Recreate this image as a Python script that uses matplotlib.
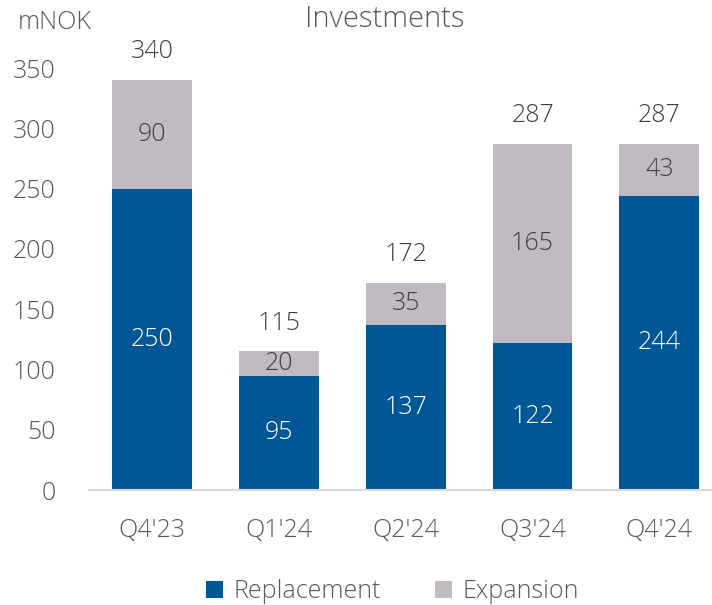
import matplotlib.pyplot as plt
import numpy as np

quarters = ["Q4'23", "Q1'24", "Q2'24", "Q3'24", "Q4'24"]
replacement = [250, 95, 137, 122, 244]
expansion = [90, 20, 35, 165, 43]
totals = [340, 115, 172, 287, 287]

blue = '#005796'
grey = '#C0BBC3'
txt = '#595959'
fs = 18

plt.rcParams['font.family'] = ['Open Sans', 'DejaVu Sans']
plt.rcParams['font.weight'] = 'light'

fig = plt.figure(figsize=(7.12, 6.05), dpi=100)
ax = fig.add_axes([0.125, 0.19, 0.89, 0.6975])

x = np.arange(len(quarters))
ax.bar(x, replacement, 0.63, color=blue, label='Replacement')
ax.bar(x, expansion, 0.63, bottom=replacement, color=grey, label='Expansion')

# etiketter i stolpene
for i in range(len(x)):
    ax.text(x[i], replacement[i] / 2, str(replacement[i]), ha='center', va='center',
            color='white', fontsize=fs, fontweight='light')
    ax.text(x[i], replacement[i] + expansion[i] / 2, str(expansion[i]), ha='center', va='center',
            color='#404040', fontsize=fs, fontweight='light')
    ax.text(x[i], totals[i] + 13, str(totals[i]), ha='center', va='bottom',
            color='#404040', fontsize=fs, fontweight='light', clip_on=False)

ax.set_xlim(-0.5, len(quarters) - 0.5)
ax.set_ylim(0, 350)
ax.set_yticks(range(0, 351, 50))
ax.set_xticks(x)
ax.set_xticklabels(quarters)
ax.tick_params(axis='both', length=0, labelsize=fs, labelcolor=txt)
ax.tick_params(axis='x', pad=20)
ax.tick_params(axis='y', pad=24)
for s in ['top', 'right', 'left']:
    ax.spines[s].set_visible(False)
ax.spines['bottom'].set_color('#D9D9D9')
ax.spines['bottom'].set_linewidth(1.5)

fig.text(0.54, 0.968, 'Investments', ha='center', va='center', fontsize=21, color=txt, fontweight='light')
fig.text(0.025, 0.962, 'mNOK', ha='left', va='center', fontsize=fs, color=txt, fontweight='light')

leg = fig.legend(loc='center', bbox_to_anchor=(0.551, 0.022), ncol=2, frameon=False,
                 fontsize=fs, handlelength=0.7, handleheight=0.7, handletextpad=0.4,
                 columnspacing=2.15)
for t in leg.get_texts():
    t.set_color(txt)

fig.savefig('out.png', dpi=100)
